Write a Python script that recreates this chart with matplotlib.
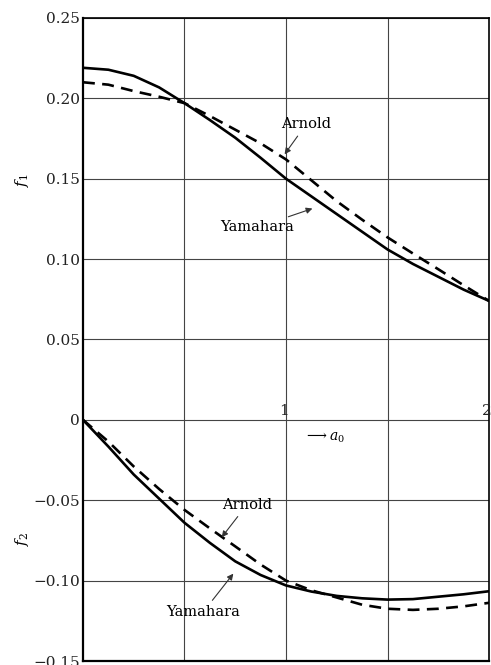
import matplotlib
matplotlib.use("Agg")
import matplotlib.pyplot as plt

plt.rcParams["font.family"] = ["DejaVu Serif"]
plt.rcParams["mathtext.fontset"] = "dejavuserif"

# values
a0 = [0.0, 0.125, 0.25, 0.375, 0.5, 0.625, 0.75, 0.875, 1.0,
      1.125, 1.25, 1.375, 1.5, 1.625, 1.75, 1.875, 2.0]
f1_yamahara = [0.219, 0.2178, 0.2140, 0.2068, 0.197, 0.1865, 0.1755, 0.163, 0.150,
               0.139, 0.128, 0.117, 0.106, 0.097, 0.089, 0.081, 0.074]
f1_arnold = [0.210, 0.2085, 0.2045, 0.2010, 0.197, 0.189, 0.1805, 0.172, 0.162,
             0.149, 0.136, 0.1245, 0.1135, 0.1035, 0.0937, 0.0837, 0.074]
f2_yamahara = [0.0, -0.0166, -0.034, -0.049, -0.064, -0.0765, -0.088, -0.0965, -0.103,
               -0.1068, -0.1095, -0.111, -0.1118, -0.1115, -0.110, -0.1085, -0.1066]
f2_arnold = [0.0, -0.0135, -0.029, -0.043, -0.056, -0.0675, -0.0787, -0.090, -0.100,
             -0.106, -0.1105, -0.115, -0.1175, -0.1182, -0.1175, -0.116, -0.1138]

yticks = [0.25, 0.20, 0.15, 0.10, 0.05, 0, -0.05, -0.10, -0.15]
ytick_labels = ["0.25", "0.20", "0.15", "0.10", "0.05", "0", "\u22120.05", "\u22120.10", "\u22120.15"]

fig = plt.figure(figsize=(4.91, 6.65), dpi=100)
ax = fig.add_axes([0.169, 0.006, 0.827, 0.967])

ax.plot(a0, f1_yamahara, color="black", lw=1.9)
ax.plot(a0, f1_arnold, color="black", lw=1.9, dashes=(4.5, 2.8))
ax.plot(a0, f2_yamahara, color="black", lw=1.9)
ax.plot(a0, f2_arnold, color="black", lw=1.9, dashes=(4.5, 2.8))

ax.set_xlim(0, 2)
ax.set_ylim(-0.15, 0.25)
ax.set_xticks([0.5, 1.0, 1.5])
ax.set_xticklabels([])
ax.set_yticks(yticks)
ax.set_yticklabels(ytick_labels, fontsize=11, color="#222222")
ax.tick_params(length=0, pad=2)
ax.grid(True, color="#444444", lw=0.8)

for side in ["left", "bottom"]:
    ax.spines[side].set_linewidth(1.6)
for side in ["top", "right"]:
    ax.spines[side].set_linewidth(1.2)

# x labels on the zero line
ax.text(0.99, 0.001, "1", fontsize=11, ha="center", va="bottom", color="#222222")
ax.text(1.99, 0.001, "2", fontsize=11, ha="center", va="bottom", color="#222222", clip_on=False)
ax.text(1.19, -0.011, r"$\longrightarrow a_0$", fontsize=10, ha="center", va="center")

# y labels
fig.text(0.045, 0.73, r"$f_1$", fontsize=11, rotation=90, ha="center", va="center")
fig.text(0.045, 0.19, r"$f_2$", fontsize=11, rotation=90, ha="center", va="center")

arrow = dict(arrowstyle="-|>", color="#333333", lw=0.8, mutation_scale=9)
ax.annotate("Arnold", xy=(0.985, 0.1638), xytext=(1.10, 0.184), fontsize=10.5,
            ha="center", va="center", arrowprops=arrow)
ax.annotate("Yamahara", xy=(1.143, 0.132), xytext=(0.857, 0.1197), fontsize=10.5,
            ha="center", va="center", arrowprops=arrow)
ax.annotate("Arnold", xy=(0.675, -0.0744), xytext=(0.808, -0.0527), fontsize=10.5,
            ha="center", va="center", arrowprops=arrow)
ax.annotate("Yamahara", xy=(0.749, -0.0943), xytext=(0.591, -0.1197), fontsize=10.5,
            ha="center", va="center", arrowprops=arrow)

fig.savefig("out.png", dpi=100)
